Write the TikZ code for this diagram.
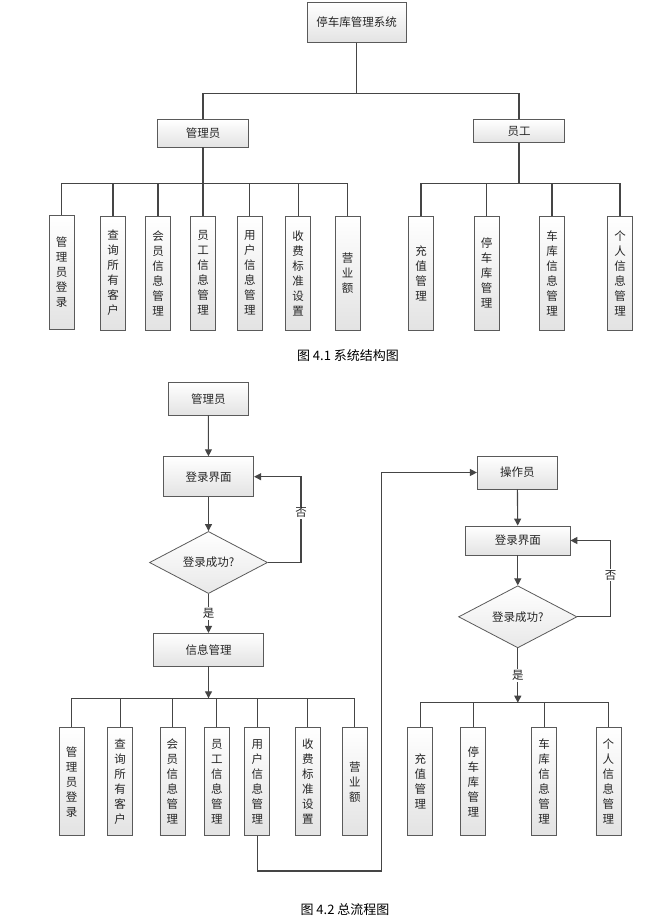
\documentclass[tikz,border=0pt]{standalone}
\usepackage{fontspec}
\setmainfont{Noto Sans CJK SC}
\usepackage{tikz}
\usetikzlibrary{arrows.meta,shapes.geometric}

\definecolor{linegray}{HTML}{454545}
\definecolor{boxgray}{HTML}{5A5A5A}

\begin{document}
\begin{tikzpicture}[x=1pt,y=-1pt, % pixel grid, y downwards
	> = {Triangle[length=7pt,width=7pt]}, % arrow head style
	line width=1.1pt,draw=linegray,
	every node/.style={font=\fontsize{11.5}{15}\selectfont,inner sep=0pt,text=black!85},
	box/.style={draw=boxgray,line width=0.8pt,rectangle,top color=white,bottom color=gray!22},
	leaf/.style={box,minimum width=25pt,align=center},
	decide/.style={draw=boxgray,line width=0.8pt,diamond,top color=white,bottom color=gray!18},
	lbl/.style={fill=white,inner sep=1pt},
	caption/.style={font=\fontsize{13}{15}\selectfont,text=black}]
	\useasboundingbox (0,0) rectangle (654,922);

	% figure 4.1
	\node[box,minimum width=99pt,minimum height=39.6pt] (sys) at (356.7,22.5) {停车库管理系统};
	\node[box,minimum width=91pt,minimum height=27.3pt] (adm) at (203,133.3) {管理员};
	\node[box,minimum width=90.5pt,minimum height=23pt] (emp) at (519,131.2) {员工};

	\node[leaf,minimum height=114pt] (a1) at (61.7,272) {管\\理\\员\\登\\录};
	\node[leaf,minimum height=114pt] (a2) at (113,273) {查\\询\\所\\有\\客\\户};
	\node[leaf,minimum height=114pt] (a3) at (158,273) {会\\员\\信\\息\\管\\理};
	\node[leaf,minimum height=114pt] (a4) at (203,273) {员\\工\\信\\息\\管\\理};
	\node[leaf,minimum height=114pt] (a5) at (249.8,273) {用\\户\\信\\息\\管\\理};
	\node[leaf,minimum height=114pt] (a6) at (298.2,273) {收\\费\\标\\准\\设\\置};
	\node[leaf,minimum height=114pt] (a7) at (347.5,273) {营\\业\\额};
	\node[leaf,minimum height=114pt] (e1) at (421,273) {充\\值\\管\\理};
	\node[leaf,minimum height=114pt] (e2) at (486.5,273) {停\\车\\库\\管\\理};
	\node[leaf,minimum height=114pt] (e3) at (552,273) {车\\库\\信\\息\\管\\理};
	\node[leaf,minimum height=114pt] (e4) at (620,273) {个\\人\\信\\息\\管\\理};

	\draw (sys.south) -- ++(0,50.4) -| (adm.north);
	\draw (sys.south) -- ++(0,50.4) -| (emp.north);
	\foreach \n in {a1,a2,a3,a4,a5,a6,a7}
		\draw (adm.south) -- ++(0,35.7) -| (\n.north);
	\foreach \n in {e1,e2,e3,e4}
		\draw (emp.south) -- ++(0,40) -| (\n.north);

	\node[caption] (cap1) at (348,355.7) {图 4.1 系统结构图};

	% figure 4.2, left branch
	\node[box,minimum width=80pt,minimum height=32.7pt] (adm2) at (208.3,398.7) {管理员};
	\node[box,minimum width=90.4pt,minimum height=40pt] (log1) at (208.5,476.7) {登录界面};
	\node[decide,minimum width=118pt,minimum height=48pt] (ok1) at (208.5,562.5) {登录成功?};
	\node[box,minimum width=110.4pt,minimum height=32.7pt] (info) at (208.5,649.7) {信息管理};
	\coordinate (busL) at (208.5,698.3);
	\coordinate (no1) at (301,512.7);

	\draw[->] (adm2) -- (log1);
	\draw[->] (log1) -- (ok1);
	\draw[->] (ok1) -- node[lbl]{是} (info);
	\draw[->] (ok1.east) -| (no1) node[lbl]{否} |- (log1.east);
	\draw[->] (info) -- (busL);

	\node[leaf,minimum height=108pt] (b1) at (71.7,781.7) {管\\理\\员\\登\\录};
	\node[leaf,minimum height=108pt] (b2) at (120.1,781.7) {查\\询\\所\\有\\客\\户};
	\node[leaf,minimum height=108pt] (b3) at (172.4,781.7) {会\\员\\信\\息\\管\\理};
	\node[leaf,minimum height=108pt] (b4) at (216.8,781.7) {员\\工\\信\\息\\管\\理};
	\node[leaf,minimum height=108pt] (b5) at (257.3,781.7) {用\\户\\信\\息\\管\\理};
	\node[leaf,minimum height=108pt] (b6) at (307.9,781.7) {收\\费\\标\\准\\设\\置};
	\node[leaf,minimum height=108pt] (b7) at (354.9,781.7) {营\\业\\额};
	\foreach \n in {b1,b2,b3,b4,b5,b6,b7}
		\draw (busL) -| (\n.north);

	% figure 4.2, right branch
	\node[box,minimum width=80pt,minimum height=33pt] (opr) at (517.3,472.5) {操作员};
	\node[box,minimum width=104.3pt,minimum height=29pt] (log2) at (517.8,540.5) {登录界面};
	\node[decide,minimum width=118.4pt,minimum height=48.3pt] (ok2) at (517.8,616.8) {登录成功?};
	\coordinate (busR) at (517.8,702.7);
	\coordinate (no2) at (610.7,575);

	\draw[->] (opr) -- (log2);
	\draw[->] (log2) -- (ok2);
	\draw[->] (ok2) -- node[lbl]{是} (busR);
	\draw[->] (ok2.east) -| (no2) node[lbl]{否} |- (log2.east);

	\node[leaf,minimum height=108pt] (c1) at (420.3,781.7) {充\\值\\管\\理};
	\node[leaf,minimum height=108pt] (c2) at (473.3,781.7) {停\\车\\库\\管\\理};
	\node[leaf,minimum height=108pt] (c3) at (544.2,781.2) {车\\库\\信\\息\\管\\理};
	\node[leaf,minimum height=108pt] (c4) at (608.4,781.7) {个\\人\\信\\息\\管\\理};
	\foreach \n in {c1,c2,c3,c4}
		\draw (busR) -| (\n.north);

	% user info -> operator
	\coordinate (turn) at (381.4,871);
	\draw[->] (b5.south) |- (turn) |- (opr.west);

	\node[caption] (cap2) at (345,910) {图 4.2 总流程图};

\end{tikzpicture}
\end{document}
